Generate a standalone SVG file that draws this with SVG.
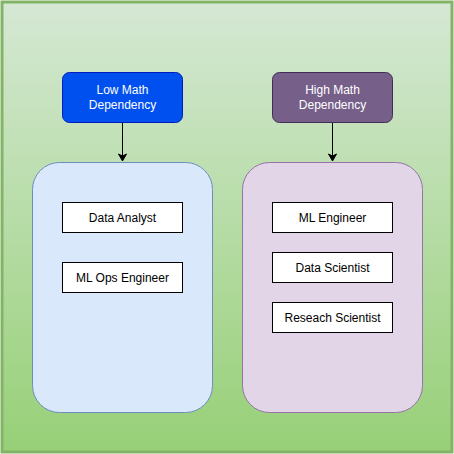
<svg xmlns="http://www.w3.org/2000/svg" width="454" height="454" viewBox="0 0 454 454">
<style>
text{font-family:"Liberation Sans",Arial,Helvetica,sans-serif;font-size:12px;text-anchor:middle}
.w{fill:#ffffff}
.k{fill:#000000}
.box{fill:#ffffff;stroke:#000000;stroke-width:1}
.edge{stroke:#000000;stroke-width:1;fill:none}
</style>
<defs>
<linearGradient id="bg" x1="0" y1="0" x2="0" y2="1">
<stop offset="0" stop-color="#d5e8d4"/>
<stop offset="1" stop-color="#97d077"/>
</linearGradient>
<marker id="ah" markerWidth="10" markerHeight="10" refX="8" refY="5" orient="auto" markerUnits="userSpaceOnUse">
<path d="M1,1 L8,5 L1,9 L3,5 Z" fill="#000000" stroke="#000000" stroke-width="1"/>
</marker>
</defs>
<g id="background">
<rect x="2" y="2" width="450" height="450" fill="url(#bg)" stroke="#82b366" stroke-width="3"/>
</g>
<g id="low-container">
<rect x="32.5" y="162.5" width="180" height="250" rx="27" ry="27" fill="#dae8fc" stroke="#6c8ebf"/>
</g>
<g id="high-container">
<rect x="242.5" y="162.5" width="180" height="250" rx="27" ry="27" fill="#e1d5e7" stroke="#9673a6"/>
</g>
<g id="low-math">
<rect x="62.5" y="72.5" width="120" height="50" rx="7" ry="7" fill="#0050ef" stroke="#001dbc"/>
<text class="w" x="122.5" y="94">Low Math</text>
<text class="w" x="122.5" y="109">Dependency</text>
</g>
<g id="high-math">
<rect x="272.5" y="72.5" width="120" height="50" rx="7" ry="7" fill="#76608a" stroke="#432d57"/>
<text class="w" x="332.5" y="94">High Math</text>
<text class="w" x="332.5" y="109">Dependency</text>
</g>
<g id="data-analyst">
<rect class="box" x="62.5" y="202.5" width="120" height="30"/>
<text class="k" x="122.5" y="221.5">Data Analyst</text>
</g>
<g id="ml-ops-engineer">
<rect class="box" x="62.5" y="262.5" width="120" height="30"/>
<text class="k" x="122.5" y="281.5">ML Ops Engineer</text>
</g>
<g id="ml-engineer">
<rect class="box" x="272.5" y="202.5" width="120" height="30"/>
<text class="k" x="332.5" y="221.5">ML Engineer</text>
</g>
<g id="data-scientist">
<rect class="box" x="272.5" y="252.5" width="120" height="30"/>
<text class="k" x="332.5" y="271.5">Data Scientist</text>
</g>
<g id="research-scientist">
<rect class="box" x="272.5" y="302.5" width="120" height="30"/>
<text class="k" x="332.5" y="321.5">Reseach Scientist</text>
</g>
<g id="connectors">
<line class="edge" x1="122.5" y1="123" x2="122.5" y2="161" marker-end="url(#ah)"/>
<line class="edge" x1="332.5" y1="123" x2="332.5" y2="161" marker-end="url(#ah)"/>
</g>
</svg>
